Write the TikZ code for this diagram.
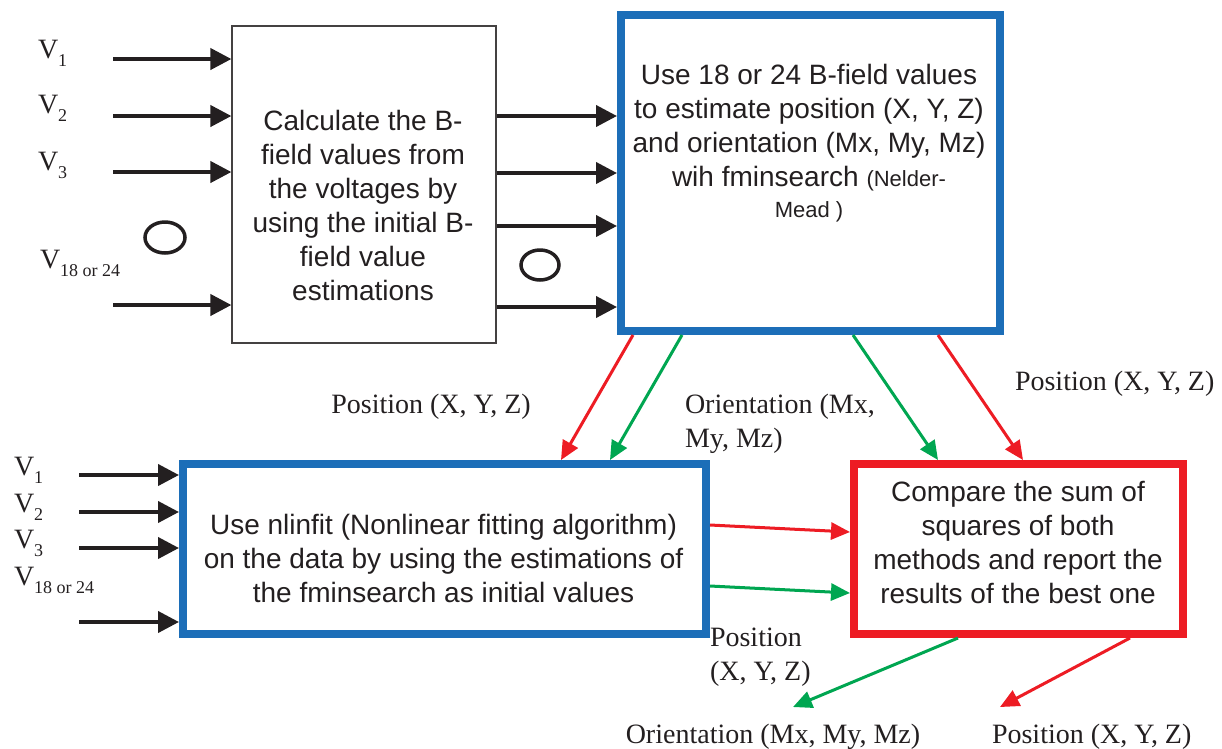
\documentclass[tikz,border=0pt]{standalone}
\usepackage{fontspec}
\setmainfont{Liberation Serif}
\setsansfont{Liberation Sans}
\usetikzlibrary{arrows.meta,shapes.geometric}
\definecolor{bblue}{RGB}{28,110,184}
\definecolor{rred}{RGB}{237,28,36}
\definecolor{ggreen}{RGB}{0,166,81}
\definecolor{ink}{RGB}{35,31,32}
\newcommand\Vsub[1]{V\raisebox{-8pt}{\fontsize{18}{18}\selectfont #1}}
\begin{document}
\begin{tikzpicture}[x=1pt,y=-1pt,
  every node/.style={inner sep=0pt, outer sep=0pt, text=ink},
  blkbox/.style={rectangle, draw=ink!85, line width=1.2pt, outer sep=0.6pt},
  bluebox/.style={rectangle, draw=bblue, line width=8pt, outer sep=4pt},
  redbox/.style={rectangle, draw=rred, line width=8pt, outer sep=4pt},
  boxtext/.style={font=\fontsize{28}{34}\selectfont\sffamily, align=center},
  lbl/.style={font=\fontsize{28}{34}\selectfont},
  vlbl/.style={font=\fontsize{28}{34}\selectfont, anchor=base west},
  inarrow/.style={line width=4pt, draw=ink, -{Triangle[length=21pt,width=21pt]}},
  rarrow/.style={line width=3pt, draw=rred, -{Triangle[length=19pt,width=17pt]}},
  garrow/.style={line width=3pt, draw=ggreen, -{Triangle[length=19pt,width=17pt]}},
  ring/.style={ellipse, draw=ink, line width=3.5pt}
]
\useasboundingbox (0,0) rectangle (1222,748);

% boxes
\node[blkbox, minimum width=264pt, minimum height=317pt] (b1) at (364,184.5) {};
\node[bluebox, minimum width=379pt, minimum height=316pt] (b2) at (810.5,173) {};
\node[bluebox, minimum width=523pt, minimum height=170pt] (b3) at (444.5,549) {};
\node[redbox, minimum width=329pt, minimum height=170pt] (b4) at (1018.5,549) {};

% box texts
\node[boxtext] (t1) at (363,205) {Calculate the B-\\field values from\\the voltages by\\using the initial B-\\field value\\estimations};
\node[boxtext] (t2) at (809,143) {Use 18 or 24 B-field values\\to estimate position (X, Y, Z)\\and orientation (Mx, My, Mz)\\wih fminsearch {\fontsize{22}{34}\selectfont (Nelder-}\\[-3pt]{\fontsize{22}{34}\selectfont Mead )}};
\node[boxtext] (t3) at (443.5,558.5) {Use nlinfit (Nonlinear fitting algorithm)\\on the data by using the estimations of\\the fminsearch as initial values};
\node[boxtext] (t4) at (1018,542.5) {Compare the sum of\\squares of both\\methods and report the\\results of the best one};

% top inputs
\node[vlbl] (v1) at (38,58) {\Vsub{1}};
\node[vlbl] (v2) at (38,113) {\Vsub{2}};
\node[vlbl] (v3) at (38,170) {\Vsub{3}};
\node[vlbl] (v4) at (40,268) {\Vsub{18 or 24}};
\node[ring, minimum width=40pt, minimum height=31pt] (o1) at (165,237.5) {};
\node[ring, minimum width=38pt, minimum height=30pt] (o2) at (540,265) {};

\coordinate (i1) at (113,59);
\coordinate (i2) at (113,116);
\coordinate (i3) at (113,172);
\coordinate (i4) at (113,305);
\foreach \c in {i1,i2,i3,i4}
  \draw[inarrow] (\c) -- (b1.west |- \c);

\foreach \yy in {116,173,226,307}
  \draw[inarrow] (b1.east |- 0,\yy) -- (b2.west |- 0,\yy);

% bottom inputs
\node[vlbl] (w1) at (14,475) {\Vsub{1}};
\node[vlbl] (w2) at (14,512) {\Vsub{2}};
\node[vlbl] (w3) at (14,548) {\Vsub{3}};
\node[vlbl] (w4) at (14,585) {\Vsub{18 or 24}};
\coordinate (j1) at (79,475);
\coordinate (j2) at (79,512);
\coordinate (j3) at (79,548);
\coordinate (j4) at (79,622);
\foreach \c in {j1,j2,j3,j4}
  \draw[inarrow] (\c) -- (b3.west |- \c);

% coloured connectors
\draw[rarrow] (633,0 |- b2.south) -- (561,0 |- b3.north);
\draw[garrow] (682,0 |- b2.south) -- (610,0 |- b3.north);
\draw[garrow] (853,0 |- b2.south) -- (938,0 |- b4.north);
\draw[rarrow] (938,0 |- b2.south) -- (1023,0 |- b4.north);
\draw[rarrow] (b3.east |- 0,525) -- (b4.west |- 0,532);
\draw[garrow] (b3.east |- 0,586) -- (b4.west |- 0,593);
\coordinate (oo) at (793,707);
\coordinate (po) at (1000,707);
\draw[garrow] (958,0 |- b4.south) -- (oo);
\draw[rarrow] (1130,0 |- b4.south) -- (po);

% labels
\node[lbl, anchor=base] (la) at (431,413) {Position (X, Y, Z)};
\node[lbl, anchor=north west, align=left] (lb) at (685,394) {Orientation (Mx,\\My, Mz)};
\node[lbl, anchor=base west] (lc) at (1015,390) {Position (X, Y, Z)};
\node[lbl, anchor=north west, align=left] (ld) at (710,628) {Position\\(X, Y, Z)};
\node[lbl, anchor=base] (le) at (773,743) {Orientation (Mx, My, Mz)};
\node[lbl, anchor=base west] (lf) at (992,743) {Position (X, Y, Z)};
\end{tikzpicture}
\end{document}
